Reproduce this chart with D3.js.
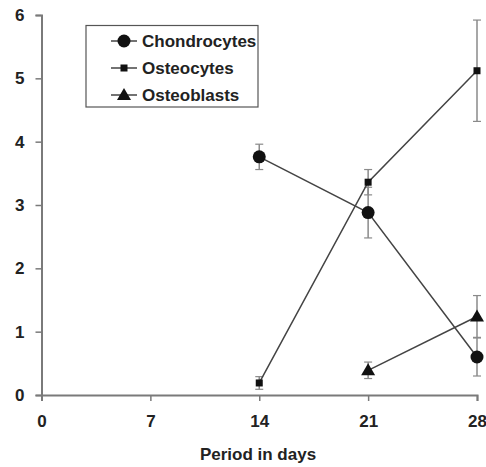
<!DOCTYPE html>
<head>
    <meta charset="utf-8">
    <script src="https://d3js.org/d3.v7.min.js"></script>
    <style>
        body { margin: 0; background: #fff; }
        text { font-family: "Liberation Sans", Arial, sans-serif; font-weight: bold; fill: #222; }
    </style>
</head>
<body>
    <div id="chart"></div>
    <script>
        // data
        var days = [14, 21, 28]
        var xTicks = [0, 7, 14, 21, 28]
        var yTicks = [0, 1, 2, 3, 4, 5, 6]
        var seriesNames = ["Chondrocytes", "Osteocytes", "Osteoblasts"]
        var chondroMean = [3.76, 2.88, 0.6]
        var chondroErr = [0.2, 0.4, 0.3]
        var osteocyteMean = [0.19, 3.36, 5.12]
        var osteocyteErr = [0.1, 0.2, 0.8]
        var osteoblastDays = [21, 28]
        var osteoblastMean = [0.39, 1.24]
        var osteoblastErr = [0.13, 0.33]

        var width = 486, height = 467
        var margin = { top: 15, right: 9, bottom: 72, left: 41.5 }

        var svg = d3.select("#chart").append("svg")
            .attr("width", width)
            .attr("height", height)

        var x = d3.scaleLinear().domain([0, 28]).range([margin.left, width - margin.right])
        var y = d3.scaleLinear().domain([0, 6]).range([height - margin.bottom, margin.top])

        var axisColor = "#7a7a7a"

        // y axis
        var yAxis = svg.append("g")
            .attr("transform", "translate(" + margin.left + ",0)")
            .call(d3.axisLeft(y).tickValues(yTicks).tickSize(6).tickPadding(11).tickFormat(d3.format("d")))
        // x axis
        var xAxis = svg.append("g")
            .attr("transform", "translate(0," + y(0) + ")")
            .call(d3.axisBottom(x).tickValues(xTicks).tickSize(6).tickPadding(14).tickFormat(d3.format("d")))

        ;[yAxis, xAxis].forEach(function(g) {
            g.select(".domain").attr("stroke", axisColor).attr("stroke-width", 2)
            g.selectAll(".tick line").attr("stroke", axisColor).attr("stroke-width", 1.5)
            g.selectAll(".tick text").style("font-size", "17px").attr("fill", "#222")
        })
        xAxis.select(".tick line").remove()

        svg.append("text")
            .attr("x", 258)
            .attr("y", 460)
            .attr("text-anchor", "middle")
            .style("font-size", "17px")
            .text("Period in days")

        var series = [
            { name: seriesNames[0], xs: days, mean: chondroMean, err: chondroErr, shape: "circle" },
            { name: seriesNames[1], xs: days, mean: osteocyteMean, err: osteocyteErr, shape: "square" },
            { name: seriesNames[2], xs: osteoblastDays, mean: osteoblastMean, err: osteoblastErr, shape: "triangle" }
        ]

        var line = d3.line().x(d => x(d.x)).y(d => y(d.y))

        function drawMarker(g, shape, cx, cy) {
            if (shape === "circle") {
                g.append("circle").attr("cx", cx).attr("cy", cy).attr("r", 6.5).attr("fill", "#111")
            } else if (shape === "square") {
                g.append("rect").attr("x", cx - 3.5).attr("y", cy - 3.5).attr("width", 7).attr("height", 7).attr("fill", "#111")
            } else {
                g.append("path").attr("d", "M" + cx + "," + (cy - 7) + "L" + (cx + 7) + "," + (cy + 5) + "L" + (cx - 7) + "," + (cy + 5) + "Z").attr("fill", "#111")
            }
        }

        series.forEach(function(s) {
            var pts = s.xs.map(function(d, i) { return { x: d, y: s.mean[i], e: s.err[i] } })
            var g = svg.append("g")
            // error bars
            pts.forEach(function(p) {
                var cx = x(p.x)
                g.append("line").attr("x1", cx).attr("x2", cx).attr("y1", y(p.y + p.e)).attr("y2", y(p.y - p.e))
                    .attr("stroke", "#8a8a8a").attr("stroke-width", 1.5)
                ;[p.y + p.e, p.y - p.e].forEach(function(v) {
                    g.append("line").attr("x1", cx - 4).attr("x2", cx + 4).attr("y1", y(v)).attr("y2", y(v))
                        .attr("stroke", "#8a8a8a").attr("stroke-width", 1.2)
                })
            })
            g.append("path").datum(pts).attr("d", line)
                .attr("fill", "none").attr("stroke", "#444").attr("stroke-width", 1.5)
            pts.forEach(function(p) { drawMarker(g, s.shape, x(p.x), y(p.y)) })
        })

        // legend
        var legend = svg.append("g")
        legend.append("rect").attr("x", 86).attr("y", 25.5).attr("width", 172).attr("height", 81.5)
            .attr("fill", "#fff").attr("stroke", "#555").attr("stroke-width", 1.2)
        series.forEach(function(s, i) {
            var ly = 41 + i * 27
            legend.append("line").attr("x1", 111).attr("x2", 137).attr("y1", ly).attr("y2", ly)
                .attr("stroke", "#444").attr("stroke-width", 1.5)
            drawMarker(legend, s.shape, 124, ly)
            legend.append("text").attr("x", 142).attr("y", ly + 6).style("font-size", "17px").text(s.name)
        })
    </script>
</body>
</html>
